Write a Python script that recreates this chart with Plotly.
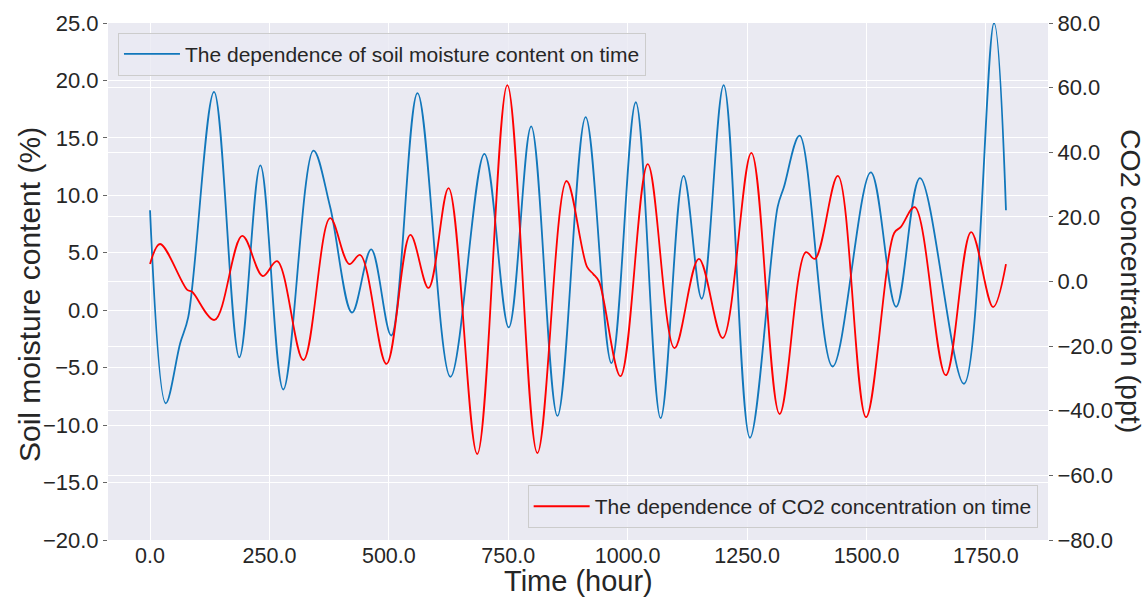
import plotly.graph_objects as go

# ---- data ----
t_soil = [0, 33, 63, 80, 134, 187, 231, 279, 342, 377, 423, 463, 505, 560, 629, 700, 751,
          798, 853, 912, 966, 1017, 1069, 1117, 1155, 1201, 1256, 1314, 1327, 1360, 1429,
          1509, 1562, 1612, 1704, 1767, 1792]
v_soil = [8.7, -8.1, -2.9, -0.6, 19.0, -4.1, 12.6, -6.9, 13.9, 9.0, -0.2, 5.3, -2.2, 18.9,
          -5.8, 13.6, -1.5, 16.0, -9.2, 16.8, -4.6, 18.1, -9.4, 11.7, 1.0, 19.6, -11.1, 9.0,
          10.7, 15.2, -4.9, 12.0, 0.3, 11.5, -6.4, 25.0, 8.7]

t_co2 = [0, 21, 78, 88, 135, 193, 236, 266, 321, 377, 417, 440, 495, 545, 583, 625, 685,
         748, 811, 872, 915, 928, 940, 985, 1042, 1098, 1149, 1199, 1259, 1318, 1373, 1392,
         1440, 1499, 1558, 1572, 1601, 1666, 1719, 1765, 1792]
c_co2 = [5.4, 11.6, -2.6, -3.2, -11.9, 14.1, 1.7, 6.3, -24.3, 19.6, 5.4, 8.2, -25.5, 14.4,
         -2.0, 28.9, -53.4, 60.8, -53.1, 31.1, 4.5, 2.3, 0.0, -29.3, 36.3, -20.6, 7.0, -17.5,
         39.8, -41.0, 9.1, 7.0, 32.7, -42.0, 15.0, 16.9, 23.0, -29.0, 15.3, -7.9, 5.4]

x_ticks = [0, 250, 500, 750, 1000, 1250, 1500, 1750]
soil_label = "The dependence of soil moisture content on time"
co2_label = "The dependence of CO2 concentration on time"

FONT = "Liberation Sans, Arial, sans-serif"
TXT = "#262626"

fig = go.Figure()
fig.add_trace(go.Scatter(x=t_soil, y=v_soil, mode="lines", name=soil_label,
                         line=dict(color="#1177bb", width=1.8, shape="spline", smoothing=1),
                         legend="legend", yaxis="y"))
fig.add_trace(go.Scatter(x=t_co2, y=c_co2, mode="lines", name=co2_label,
                         line=dict(color="#ff0000", width=1.8, shape="spline", smoothing=1),
                         legend="legend2", yaxis="y2"))

fig.update_layout(
    width=1148, height=597,
    margin=dict(l=108, r=100, t=23, b=57),
    paper_bgcolor="white", plot_bgcolor="#EAEAF2",
    font=dict(family=FONT, color=TXT, size=22),
    xaxis=dict(range=[-88, 1880], tickvals=x_ticks, tickformat=".1f",
               showgrid=True, gridcolor="white", gridwidth=1, zeroline=False,
               showline=False, ticks="", tickfont=dict(size=21.5, color=TXT)),
    yaxis=dict(range=[-20, 25], dtick=5, tick0=0, tickformat=".1f",
               showgrid=True, gridcolor="white", gridwidth=1, zeroline=False,
               showline=False, ticks="outside", ticklen=4, tickcolor="#666",
               tickfont=dict(size=22, color=TXT)),
    yaxis2=dict(range=[-80, 80], dtick=20, tick0=0, tickformat=".1f",
                overlaying="y", side="right",
                showgrid=True, gridcolor="white", gridwidth=1, zeroline=False,
                showline=False, ticks="outside", ticklen=4, tickcolor="#666",
                tickfont=dict(size=22, color=TXT)),
    legend=dict(x=0.0106, y=0.981, xanchor="left", yanchor="top", itemwidth=56,
                bgcolor="rgba(234,234,242,0.8)", bordercolor="#cccccc", borderwidth=1,
                font=dict(size=21, color=TXT, family=FONT)),
    legend2=dict(x=0.989, y=0.023, xanchor="right", yanchor="bottom", itemwidth=56,
                 bgcolor="rgba(234,234,242,0.8)", bordercolor="#cccccc", borderwidth=1,
                 font=dict(size=21, color=TXT, family=FONT)),
    showlegend=True,
)

fig.add_annotation(text="Time (hour)", xref="paper", yref="paper",
                   x=0.5, y=(540 - 580.5) / 517, xanchor="center", yanchor="middle",
                   showarrow=False, borderpad=0,
                   font=dict(size=29, color=TXT, family=FONT))
fig.add_annotation(text="Soil moisture content (%)", xref="paper", yref="paper",
                   x=(29 - 108) / 940, y=(540 - 295) / 517, xanchor="center", yanchor="middle",
                   textangle=-90, showarrow=False, font=dict(size=30, color=TXT, family=FONT))
fig.add_annotation(text="CO2 concentration (ppt)", xref="paper", yref="paper",
                   x=(1131 - 108) / 940, y=(540 - 281) / 517, xanchor="center", yanchor="middle",
                   textangle=90, showarrow=False, font=dict(size=28.5, color=TXT, family=FONT))

fig.write_html("out.html")
